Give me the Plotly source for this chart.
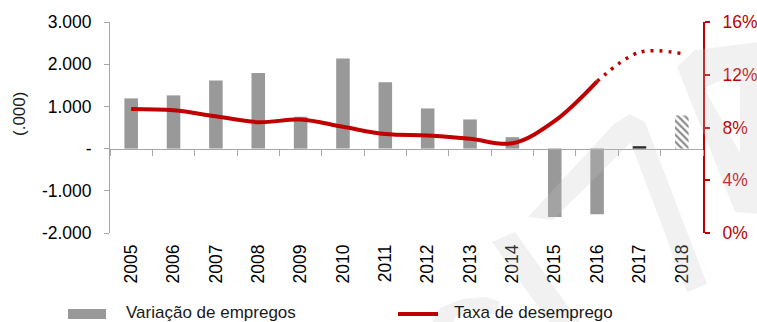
import plotly.graph_objects as go

# ---- data -------------------------------------------------------------
anos = [str(a) for a in range(2005, 2019)]
variacao_empregos = [1190, 1261, 1615, 1791, 755, 2133, 1570, 952, 691, 271,
                     -1620, -1558, 57, 786]          # mil postos
taxa_desemprego = [9.4, 9.3, 8.85, 8.4, 8.6, 8.05, 7.5, 7.4, 7.15, 6.8,
                   8.5, 11.5, 13.7, 13.6]            # %
ano_ultimo_observado = "2016"

cores_barras = ["#999999"] * 12 + ["#000000", "#8C8C8C"]
padrao_barras = [""] * 13 + ["\\"]

ticks_esq = [-2000, -1000, 0, 1000, 2000, 3000]
rotulos_esq = ["-2.000", "-1.000", "-", "1.000", "2.000", "3.000"]
ticks_dir = [0, 4, 8, 12, 16]
rotulos_dir = ["0%", "4%", "8%", "12%", "16%"]

# ---- styling ----------------------------------------------------------
FONTE = "Liberation Sans, Arial, sans-serif"
VERMELHO = "#C00000"
CINZA_EIXO = "#A6A6A6"
W, H = 757, 322
ML, MR, MT, MB = 110, 54, 22, 89
PW, PH = W - ML - MR, H - MT - MB

corte = anos.index(ano_ultimo_observado) + 1

fig = go.Figure()

fig.add_trace(go.Bar(
    x=anos, y=variacao_empregos, name="Variação de empregos",
    marker=dict(color=cores_barras, line=dict(width=0),
                pattern=dict(shape=padrao_barras, size=5, solidity=0.45,
                             bgcolor="white", fillmode="replace")),
    xaxis="x", yaxis="y", showlegend=False,
))

fig.add_trace(go.Scatter(
    x=anos[:corte], y=taxa_desemprego[:corte], mode="lines",
    line=dict(color=VERMELHO, width=4, shape="spline", smoothing=1),
    xaxis="x2", yaxis="y2", showlegend=False,
))
fig.add_trace(go.Scatter(
    x=anos[corte - 1:], y=taxa_desemprego[corte - 1:], mode="lines",
    line=dict(color=VERMELHO, width=3.5, shape="spline", smoothing=1,
              dash="3px,6px"),
    xaxis="x2", yaxis="y2", showlegend=False,
))


def px(x, y):
    """pixel position on the page -> paper coordinates"""
    return (x - ML) / PW, (H - MB - y) / PH


def caminho(*aneis):
    partes = []
    for anel in aneis:
        pts = [px(x, y) for x, y in anel]
        partes.append("M " + " L ".join(f"{a:.4f},{b:.4f}" for a, b in pts)
                      + " Z")
    return " ".join(partes)


# faint logo watermark drawn over the chart
marca = [
    caminho([(528, 217), (614, 124), (630, 114), (645, 122), (707, 284),
             (687, 292), (630.6, 142.4), (553, 220)]),
    caminho([(492, 242), (515, 232), (585, 330), (562, 340)]),
    caminho([(428, 330), (440, 308), (462, 299), (486, 297), (500, 302),
             (494, 314), (474, 311), (456, 316), (450, 330)]),
    caminho([(677, 67), (695, 50), (775, 40), (775, 215), (735, 212)],
            [(704, 88), (740, 153), (740, 72)]),
]
shapes = []
for p in marca:
    shapes.append(dict(type="path", path=p, xref="paper", yref="paper",
                       fillcolor="rgba(197,197,197,0.24)",
                       line=dict(width=0), layer="above"))

# legend keys
lx0, ly0 = px(68, 309)
lx1, ly1 = px(106, 319)
shapes.append(dict(type="rect", xref="paper", yref="paper", x0=lx0, x1=lx1,
                   y0=ly1, y1=ly0, fillcolor="#999999", line=dict(width=0)))
rx0, ry = px(398, 314)
rx1, _ = px(438, 314)
shapes.append(dict(type="line", xref="paper", yref="paper", x0=rx0, x1=rx1,
                   y0=ry, y1=ry, line=dict(color=VERMELHO, width=4)))

annotations = []
tx, ty = px(124, 312)
annotations.append(dict(text="Variação de empregos", xref="paper",
                        yref="paper", x=tx, y=ty, xanchor="left",
                        yanchor="middle", showarrow=False,
                        font=dict(family=FONTE, size=17, color="#1a1a1a")))
tx, ty = px(452, 312)
annotations.append(dict(text="Taxa de desemprego", xref="paper",
                        yref="paper", x=tx, y=ty, xanchor="left",
                        yanchor="middle", showarrow=False,
                        font=dict(family=FONTE, size=17, color="#1a1a1a")))
tx, ty = px(20, 114)
annotations.append(dict(text="(.000)", xref="paper", yref="paper", x=tx,
                        y=ty, xanchor="center", yanchor="middle",
                        textangle=-90, showarrow=False,
                        font=dict(family=FONTE, size=17, color="#1a1a1a")))

eixo_cat = dict(type="category", categoryorder="array", categoryarray=anos,
                range=[-0.5, len(anos) - 0.5], automargin=False)

fig.update_layout(
    width=W, height=H,
    margin=dict(l=ML, r=MR, t=MT, b=MB, pad=0, autoexpand=False),
    paper_bgcolor="white", plot_bgcolor="white",
    font=dict(family=FONTE, size=17, color="#000000"),
    bargap=0.68,
    xaxis=dict(**eixo_cat, showline=False, ticks="", showgrid=False,
               zeroline=False, tickangle=-90, ticklabelstandoff=7,
               tickfont=dict(size=17.5, color="#000000")),
    xaxis2=dict(**eixo_cat, overlaying="x", matches="x", anchor="free",
                position=0.4, showline=True, linecolor=CINZA_EIXO,
                linewidth=1, ticks="outside", tickson="boundaries",
                ticklen=6, tickcolor=CINZA_EIXO, tickwidth=1,
                showticklabels=False, showgrid=False, zeroline=False),
    yaxis=dict(range=[-2000, 3000], tickvals=ticks_esq, ticktext=rotulos_esq,
               showline=True, linecolor=CINZA_EIXO, linewidth=1,
               ticks="outside", ticklen=5, tickcolor=CINZA_EIXO,
               ticklabelstandoff=9, showgrid=False, zeroline=False,
               automargin=False,
               tickfont=dict(size=17.5, color="#000000")),
    yaxis2=dict(range=[0, 16], tickvals=ticks_dir, ticktext=rotulos_dir,
                overlaying="y", side="right", anchor="x2",
                showline=True, linecolor=VERMELHO, linewidth=2,
                ticks="outside", ticklen=5, tickcolor=VERMELHO, tickwidth=2,
                ticklabelstandoff=9, showgrid=False, zeroline=False,
                automargin=False,
                tickfont=dict(size=17.5, color=VERMELHO)),
    shapes=shapes,
    annotations=annotations,
    showlegend=False,
)

fig.write_html("out.html")
